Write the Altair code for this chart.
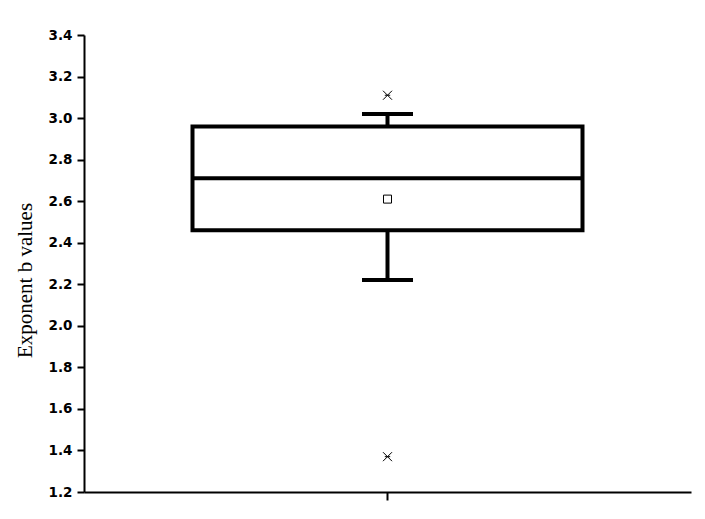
import altair as alt
import pandas as pd

category = ["b"]
q1 = [2.46]
median = [2.71]
q3 = [2.96]
whisker_low = [2.22]
whisker_high = [3.02]
mean = [2.61]
minimum = [1.37]
maximum = [3.11]

y_ticks = [round(1.2 + 0.1 * i, 1) for i in range(23)]

df = pd.DataFrame({
    "cat": category, "q1": q1, "median": median, "q3": q3,
    "wlo": whisker_low, "whi": whisker_high, "mean": mean,
    "min": minimum, "max": maximum,
})

yscale = alt.Scale(domain=[1.2, 3.4], nice=False, zero=False)
xenc = alt.X("cat:N", axis=alt.Axis(labels=False, title=None, tickSize=8, tickWidth=2,
                                     domainWidth=2, domainColor="black", tickColor="black"))
yaxis = alt.Axis(
    values=y_ticks,
    title="Exponent b values",
    titleFont="Liberation Serif", titleFontSize=21, titleFontWeight="normal",
    titleColor="black", titleAngle=270, titleAlign="center", titleBaseline="alphabetic",
    titleX=-53, titleY=245,
    labelFont="DejaVu Sans", labelFontSize=13.5, labelFontWeight="bold", labelColor="black",
    labelExpr="round(datum.value*10) % 2 == 0 ? format(datum.value, '.1f') : ''",
    tickSize={"condition": {"test": "round(datum.value*10) % 2 == 0", "value": 7}, "value": 4},
    tickWidth=2, tickColor="black", domainWidth=2, domainColor="black",
    labelPadding=5, grid=False,
)

base = alt.Chart(df)

box = base.mark_bar(size=390, fill="white", fillOpacity=0, stroke="black", strokeWidth=4, opacity=1).encode(
    x=xenc,
    y=alt.Y("q1:Q", scale=yscale, axis=yaxis),
    y2="q3:Q",
)
med = base.mark_tick(size=390, thickness=4, color="black", opacity=1).encode(
    x="cat:N", y=alt.Y("median:Q", scale=yscale))
w_up = base.mark_rule(strokeWidth=4, color="black", opacity=1).encode(
    x="cat:N", y=alt.Y("q3:Q", scale=yscale), y2="whi:Q")
w_lo = base.mark_rule(strokeWidth=4, color="black", opacity=1).encode(
    x="cat:N", y=alt.Y("wlo:Q", scale=yscale), y2="q1:Q")
cap_up = base.mark_tick(size=51, thickness=4, color="black", opacity=1).encode(
    x="cat:N", y=alt.Y("whi:Q", scale=yscale))
cap_lo = base.mark_tick(size=51, thickness=4, color="black", opacity=1).encode(
    x="cat:N", y=alt.Y("wlo:Q", scale=yscale))
mean_pt = base.mark_point(shape="square", size=64, filled=False, color="black", strokeWidth=1, opacity=1).encode(
    x="cat:N", y=alt.Y("mean:Q", scale=yscale))
star = "M-1,-1L1,1M-1,1L1,-1M-0.6,0L0.6,0"
max_pt = base.mark_point(shape=star, size=81, filled=False, color="black", strokeWidth=1, opacity=1).encode(
    x="cat:N", y=alt.Y("max:Q", scale=yscale))
min_pt = base.mark_point(shape=star, size=81, filled=False, color="black", strokeWidth=1, opacity=1).encode(
    x="cat:N", y=alt.Y("min:Q", scale=yscale))

chart = alt.layer(box, w_up, w_lo, cap_up, cap_lo, med, mean_pt, max_pt, min_pt).properties(
    width=607, height=457,
    autosize=alt.AutoSizeParams(type="none"),
    padding={"left": 76, "top": 27, "right": 6, "bottom": 19},
    background="white",
).configure_view(stroke=None)

chart.save("out.html", embed_options={"renderer": "svg", "actions": False})
